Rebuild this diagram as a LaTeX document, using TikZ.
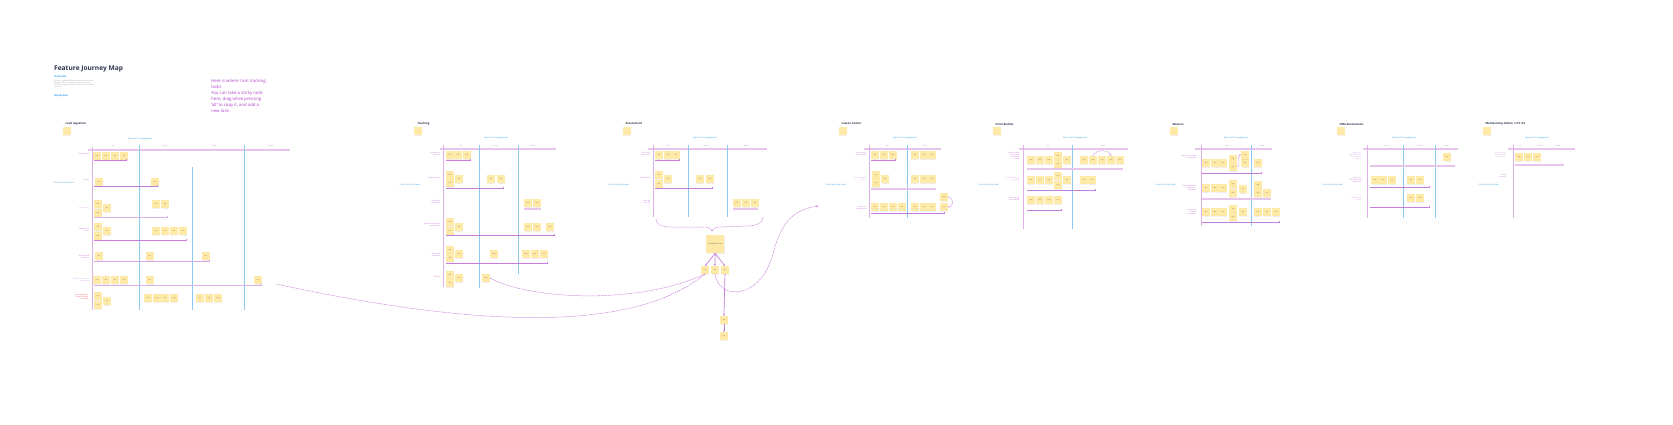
\documentclass[tikz,border=0pt]{standalone}
\usepackage{fontspec}
\setmainfont{Open Sans}
\usetikzlibrary{arrows.meta,shadows}

\definecolor{noteyel}{HTML}{FFE9A6}
\definecolor{linepurp}{HTML}{C77DDB}
\definecolor{bandpurp}{HTML}{E6C4EC}
\definecolor{axispurp}{HTML}{DDB0E6}
\definecolor{colblue}{HTML}{8CC8F2}
\definecolor{txtpurp}{HTML}{B040C8}
\definecolor{txtblue}{HTML}{2C9AE8}
\definecolor{titlenavy}{HTML}{2E3350}

\tikzset{
  note/.style={fill=noteyel, minimum width=7.5pt, minimum height=7.5pt, inner sep=0.4pt,
    anchor=north west, font=\fontsize{1.4}{1.7}\selectfont, text=black!65,
    drop shadow={opacity=0.12, shadow xshift=0.3pt, shadow yshift=-0.9pt}},
  bignote/.style={note, minimum width=18pt, minimum height=18pt, font=\fontsize{1.8}{2.2}\selectfont},
  rowline/.style={draw=linepurp, line width=0.7pt, -{Square[length=1.3pt,width=1.5pt]}},
  rowband/.style={draw=bandpurp, line width=1.5pt},
  topband/.style={draw=bandpurp, line width=1.3pt},
  axis/.style={draw=axispurp, line width=0.9pt},
  coldiv/.style={draw=colblue, line width=0.9pt},
  flow/.style={draw=linepurp, line width=0.5pt, dash pattern=on 1.5pt off 0.8pt},
  link/.style={draw=linepurp, line width=0.7pt, -{Stealth[length=2pt,width=1.8pt]}},
  ptitle/.style={font=\fontsize{2.8}{3.2}\selectfont\bfseries, text=titlenavy, anchor=west},
  bluelbl/.style={font=\fontsize{2}{2.4}\selectfont, text=txtblue},
  rowlbl/.style={font=\fontsize{1.8}{2.2}\selectfont, text=txtpurp!75, anchor=east, align=right, inner sep=0.5pt},
  colhd/.style={font=\fontsize{1.6}{2}\selectfont, text=txtpurp!75},
}

\begin{document}
\begin{tikzpicture}[x=1pt, y=-1pt]
  %%%%% START %%%%%
  \useasboundingbox[fill=white] (0,0) rectangle (1673,425);

  % header
  \node[anchor=west, font=\fontsize{6.6}{8}\selectfont\bfseries, text=titlenavy, inner sep=0] (title) at (54,69) {Feature Journey Map};
  \node[anchor=west, font=\fontsize{2.6}{3}\selectfont\bfseries, text=txtblue, inner sep=0] (overview) at (54,77) {Overview};
  \node[anchor=north west, font=\fontsize{1.6}{2.1}\selectfont, text=black!45, inner sep=0, align=left] (intro) at (54,80)
    {Use this board to follow each feature from first idea\\through release, one swimlane per team and one\\column per stage of the journey. Move notes as work\\moves on.};
  \node[anchor=west, font=\fontsize{2.6}{3}\selectfont\bfseries, text=txtblue, inner sep=0] (group) at (54,96) {Group Size};
  \node[anchor=north west, font=\fontsize{4.3}{5.8}\selectfont, text=txtpurp, inner sep=0, align=left] (howto) at (211,79)
    {Here is where I am tracking\\tasks\\[0.8pt]You can take a sticky note\\here, drag while pressing\\`alt' to copy it, and add a\\new task.};

  % ---- panel 1 ----
  \node[ptitle] (t1) at (62,124) {Lead Ingestion};
  \node[note] (k1) at (63,127) {};
  \node[bluelbl] (b1) at (140,139) {Sales and CS engagement};
  \draw[topband] (88,150) -- (290,150);
  \foreach \x/\h in {113/Idea,165/Design,214/Build,271/Launch} \node[colhd] (h1-\x) at (\x,146) {\h};
  \draw[axis] (92,147) -- (92,310);
  \draw[coldiv] (139,145) -- (139,310);
  \draw[coldiv] (192,167) -- (192,310);
  \draw[coldiv] (244,145) -- (244,310);
  \node[bluelbl, anchor=west] (s1) at (50,183) {Cross-functional team};
  \node[rowlbl] (r1a) at (90,154) {Web capture};
  \foreach \x in {93,102,111,120} \node[note] (n1a-\x) at (\x,152) {task};
  \draw[rowline] (94,160) -- (127,160);
  \node[rowlbl] (r1b) at (90,180) {Import};
  \node[note] (n1b-1) at (95,178) {task};
  \node[note] (n1b-2) at (151,178) {task};
  \draw[rowline] (94,186) -- (158,186);
  \node[rowlbl, text=txtpurp!45] (r1c) at (90,208) {Lead scoring};
  \foreach \x/\y in {94/200,103/204,94/209,152/200,161/200} \node[note] (n1c-\x-\y) at (\x,\y) {task};
  \draw[rowline, draw=linepurp!60] (94,217) -- (168,217);
  \node[rowlbl] (r1d) at (90,230) {Assignment\\rules};
  \foreach \x/\y in {94/223,94/232,103/227,152/227,161/227,170/227,179/227} \node[note] (n1d-\x-\y) at (\x,\y) {task};
  \draw[rowline] (94,240) -- (187,240);
  \node[rowlbl] (r1e) at (90,257) {Nurture and\\follow up};
  \foreach \x in {95,146,202} \node[note] (n1e-\x) at (\x,252) {task};
  \draw[rowline, draw=linepurp!70] (94,261) -- (210,261);
  \node[rowlbl, text=txtpurp!50] (r1f) at (90,280) {Duplicate detection\\and merge};
  \foreach \x in {93,102,111,120,146,254} \node[note] (n1f-\x) at (\x,276) {task};
  \draw[rowline, draw=linepurp!60] (94,285) -- (262,285);
  \coordinate (p1end) at (276,284);
  \node[rowlbl, text=red!70] (r1g) at (89,297) {Open questions\\from the team\\on intake};
  \foreach \x/\y in {94/292,103/297,94/301,144/294,153/294,161/294,170/294,196/294,205/294,214/294} \node[note] (n1g-\x-\y) at (\x,\y) {task};

  % ---- panel 2 ----
  \node[ptitle] (t2) at (414,124) {Tracking};
  \node[note] (k2) at (414,127) {};
  \node[bluelbl] (b2) at (496,138) {Sales and CS engagement};
  \draw[topband] (440,149) -- (556,149);
  \foreach \x/\h in {461/Idea,496/Design,533/Build} \node[colhd] (h2-\x) at (\x,146) {\h};
  \draw[axis] (443,145) -- (443,287);
  \draw[coldiv] (479,145) -- (479,288);
  \draw[coldiv] (518,145) -- (518,274);
  \node[bluelbl, anchor=west] (s2) at (396,185) {Cross-functional team};
  \node[rowlbl] (r2a) at (441,154) {Attendance\\check-in};
  \foreach \x in {446,454,463} \node[note] (n2a-\x) at (\x,151) {task};
  \draw[rowline] (446,160) -- (471,160);
  \node[rowlbl] (r2b) at (441,178) {Progress notes};
  \foreach \x/\y in {446/171,446/179,455/175,487/175,497/175} \node[note] (n2b-\x-\y) at (\x,\y) {task};
  \draw[rowline] (446,188) -- (504,188);
  \node[rowlbl] (r2c) at (441,202) {Goals and\\milestones};
  \foreach \x in {524,533} \node[note] (n2c-\x) at (\x,199) {task};
  \draw[rowband] (524,209) -- (541,209);
  \node[rowlbl] (r2d) at (441,225) {Reports for parents\\and coaches};
  \foreach \x/\y in {446/218,446/227,455/223,524/223,533/223,546/223} \node[note] (n2d-\x-\y) at (\x,\y) {task};
  \draw[rowline] (446,235) -- (555,235);
  \node[rowlbl] (r2e) at (441,255) {Alerts and\\reminders};
  \foreach \x/\y in {446/246,446/254,455/250,490/250,522/250,531/250,540/250} \node[note] (n2e-\x-\y) at (\x,\y) {task};
  \draw[rowline] (446,263) -- (548,263);
  \node[rowlbl, text=red!60] (r2f) at (441,277) {Exports};
  \foreach \x/\y in {446/271,446/279,455/274} \node[note] (n2f-\x-\y) at (\x,\y) {task};
  \node[note] (n2f-last) at (482,274) {task};

  % ---- panel 3 ----
  \node[ptitle] (t3) at (622,124) {Assessment};
  \node[note] (k3) at (623,127) {};
  \node[bluelbl] (b3) at (705,138) {Sales and CS engagement};
  \draw[topband] (648,149) -- (767,149);
  \foreach \x/\h in {668/Idea,706/Design,746/Build} \node[colhd] (h3-\x) at (\x,146) {\h};
  \draw[axis] (653,145) -- (653,217);
  \draw[coldiv] (688,145) -- (688,217);
  \draw[coldiv] (727,145) -- (727,217);
  \node[bluelbl, anchor=west] (s3) at (605,185) {Cross-functional team};
  \node[rowlbl] (r3a) at (651,154) {Skill levels\\and rubrics};
  \foreach \x in {655,664,672} \node[note] (n3a-\x) at (\x,151) {task};
  \draw[rowline] (655,160) -- (680,160);
  \node[rowlbl] (r3b) at (651,178) {Evaluations};
  \foreach \x/\y in {655/171,655/180,664/175,696/175,706/175} \node[note] (n3b-\x-\y) at (\x,\y) {task};
  \draw[rowline] (655,188) -- (713,188);
  \node[rowlbl] (r3c) at (651,202) {Level-up\\results};
  \foreach \x in {733,742,751} \node[note] (n3c-\x) at (\x,199) {task};
  \draw[rowband] (733,209) -- (758,209);

  % merge into hub
  \draw[flow] (656,219) to[out=-85,in=180] (678,227) -- (704,227) to[out=0,in=90] (712,232);
  \draw[flow] (763,217) to[out=-95,in=0] (746,226) -- (720,227) to[out=180,in=90] (712,232);
  \node[bignote] (hub) at (706,235) {Shared\\skills hub};
  \node[note] (c1) at (701,266) {task};
  \node[note] (c2) at (711,266) {task};
  \node[note] (c3) at (721,266) {task};
  \node[note] (c4) at (720,316) {task};
  \node[note] (c5) at (720,332) {task};
  \draw[link] (hub.south) -- (c1.north);
  \draw[link] (hub.south) -- (c2.north);
  \draw[link] (hub.south) -- (c3.north);
  \draw[link] (c3.south) -- (c4.north);
  \draw[link] (c4.south) -- (c5.north);

  % links back and forward
  \draw[flow] (c1.south) .. controls (620,345) and (420,315) .. (p1end);
  \draw[flow] (c1.south) .. controls (640,305) and (530,300) .. (n2f-last.east);
  \coordinate (p4in) at (818,206);
  \draw[flow, -{Stealth[length=2.2pt,width=2pt]}] (c2.south) .. controls (718,300) and (762,302) .. (774,250) .. controls (784,215) and (800,209) .. (p4in);

  % ---- panel 4 ----
  \node[ptitle] (t4) at (838,124) {Lesson Center};
  \node[note] (k4) at (839,127) {};
  \node[bluelbl] (b4) at (905,138) {Sales and CS engagement};
  \draw[topband] (864,149) -- (941,149);
  \foreach \x/\h in {887/Idea,925/Build} \node[colhd] (h4-\x) at (\x,146) {\h};
  \draw[axis] (869,145) -- (869,218);
  \draw[coldiv] (907,145) -- (907,218);
  \node[bluelbl, anchor=west] (s4) at (822,185) {Cross-functional team};
  \node[rowlbl] (r4a) at (867,154) {Lesson plans\\and content};
  \foreach \x in {871,880,889,911,920,928} \node[note] (n4a-\x) at (\x,151) {task};
  \draw[rowline] (871,160) -- (896,160);
  \node[rowlbl, text=txtpurp!45] (r4b) at (867,179) {Class schedule\\builder};
  \foreach \x/\y in {872/171,872/179,881/175,911/175,920/175,928/175} \node[note] (n4b-\x-\y) at (\x,\y) {task};
  \draw[rowband] (871,189) -- (936,189);
  \node[rowlbl] (r4c) at (867,208) {Instructor\\assignment};
  \foreach \x in {871,880,889,898,911,920,928} \node[note] (n4c-\x) at (\x,203) {task};
  \node[note] (n4c-up) at (940,193) {task};
  \node[note] (n4c-dn) at (940,203) {task};
  \draw[flow, -{Stealth[length=1.5pt,width=1.4pt]}] (n4c-up.east) to[out=0,in=0,looseness=1.6] (n4c-dn.east);
  \draw[rowline] (871,213) -- (945,213);

  % ---- panel 5 ----
  \node[ptitle] (t5) at (992,124) {Form Builder};
  \node[note] (k5) at (993,127) {};
  \node[bluelbl] (b5) at (1075,138) {Sales and CS engagement};
  \draw[topband] (1019,149) -- (1128,149);
  \foreach \x/\h in {1048/Idea,1103/Build} \node[colhd] (h5-\x) at (\x,146) {\h};
  \draw[axis] (1023,145) -- (1023,229);
  \draw[coldiv] (1072,145) -- (1072,229);
  \node[bluelbl, anchor=west] (s5) at (975,185) {Cross-functional team};
  \node[rowlbl] (r5a) at (1020,156) {Custom fields\\for sign-up\\and intake\\forms};
  \foreach \x/\y in {1027/156,1036/156,1045/156,1054/152,1054/160,1063/156,1080/156,1098/156,1116/156} \node[note] (n5a-\x-\y) at (\x,\y) {task};
  \node[note] (n5a-from) at (1089,156) {task};
  \node[note] (n5a-to) at (1107,156) {task};
  \draw[flow, -{Stealth[length=1.5pt,width=1.4pt]}] (n5a-from.north) to[out=75,in=105] (n5a-to.north);
  \draw[rowband] (1027,169) -- (1123,169);
  \node[rowlbl, text=txtpurp!45] (r5b) at (1020,179) {Conditional logic\\and rules};
  \foreach \x/\y in {1027/176,1036/176,1045/176,1054/172,1054/181,1063/176,1080/176,1088/176} \node[note] (n5b-\x-\y) at (\x,\y) {task};
  \draw[rowline] (1027,190) -- (1096,190);
  \node[rowlbl] (r5c) at (1020,199) {Form sharing\\and embeds};
  \foreach \x in {1027,1036,1045,1054} \node[note] (n5c-\x) at (\x,196) {task};
  \draw[rowline] (1027,210) -- (1062,210);

  % ---- panel 6 ----
  \node[ptitle] (t6) at (1169,124) {Waivers};
  \node[note] (k6) at (1170,127) {};
  \node[bluelbl] (b6) at (1236,138) {Sales and CS engagement};
  \draw[topband] (1195,149) -- (1272,149);
  \foreach \x/\h in {1227/Idea,1262/Build} \node[colhd] (h6-\x) at (\x,146) {\h};
  \draw[axis] (1201,145) -- (1201,226);
  \draw[coldiv] (1251,145) -- (1251,226);
  \node[bluelbl, anchor=west] (s6) at (1152,185) {Cross-functional team};
  \node[rowlbl] (r6a) at (1197,157) {Waiver templates\\and versions};
  \foreach \x/\y in {1202/159,1211/159,1219/159,1229/155,1241/159,1254/159} \node[note] (n6a-\x-\y) at (\x,\y) {task};
  \node[note] (n6a-from) at (1229,163) {task};
  \node[note] (n6a-to) at (1241,151) {task};
  \draw[flow, -{Stealth[length=1.5pt,width=1.4pt]}] (n6a-from.east) to[out=0,in=180] (n6a-to.west);
  \draw[rowline] (1202,173) -- (1262,173);
  \node[rowlbl] (r6b) at (1197,188) {Digital signature\\capture for\\members};
  \foreach \x/\y in {1202/184,1211/184,1219/184,1229/180,1229/189,1239/185,1254/181,1254/189,1263/189} \node[note] (n6b-\x-\y) at (\x,\y) {task};
  \draw[rowband] (1202,199) -- (1271,199);
  \node[rowlbl] (r6c) at (1197,212) {Expiry and\\renewal\\reminders};
  \foreach \x/\y in {1202/208,1211/208,1219/208,1229/205,1229/213,1239/208,1254/208,1263/208,1272/208} \node[note] (n6c-\x-\y) at (\x,\y) {task};
  \draw[rowline] (1202,222) -- (1280,222);

  % ---- panel 7 ----
  \node[ptitle] (t7) at (1336,124) {CRM Automation};
  \node[note] (k7) at (1337,127) {};
  \node[bluelbl] (b7) at (1404,138) {Sales and CS engagement};
  \draw[topband] (1363,149) -- (1458,149);
  \foreach \x/\h in {1386/Idea,1420/Design,1447/Build} \node[colhd] (h7-\x) at (\x,146) {\h};
  \draw[axis] (1367,145) -- (1367,218);
  \draw[coldiv] (1403,145) -- (1403,218);
  \draw[coldiv] (1435,145) -- (1435,218);
  \node[bluelbl, anchor=west] (s7) at (1319,185) {Cross-functional team};
  \node[rowlbl, text=txtpurp!45] (r7a) at (1362,156) {Triggers on\\member status\\and payment\\events};
  \node[note] (n7a) at (1443,153) {task};
  \draw[rowband] (1370,166) -- (1455,166);
  \node[rowlbl] (r7b) at (1362,180) {Email and\\SMS follow-up\\sequences};
  \foreach \x in {1371,1379,1388,1407,1416} \node[note] (n7b-\x) at (\x,176) {task};
  \draw[rowline] (1370,187) -- (1430,187);
  \node[rowlbl, text=txtpurp!45] (r7c) at (1362,199) {Task queues\\for staff};
  \foreach \x in {1407,1416} \node[note] (n7c-\x) at (\x,194) {task};
  \draw[rowline] (1370,207) -- (1430,207);

  % ---- panel 8 ----
  \node[ptitle] (t8) at (1482,124) {Membership Admin / LCT 2.0};
  \node[note] (k8) at (1483,127) {};
  \node[bluelbl] (b8) at (1537,138) {Sales and CS engagement};
  \draw[topband] (1508,149) -- (1575,149);
  \foreach \x/\h in {1520/Idea,1540/Design,1558/Build} \node[colhd] (h8-\x) at (\x,146) {\h};
  \draw[axis] (1513,145) -- (1513,218);
  \node[bluelbl, anchor=west] (s8) at (1475,185) {Cross-functional team};
  \node[rowlbl, text=txtpurp!45] (r8a) at (1507,155) {Plans, freezes\\and transfers\\for members};
  \foreach \x in {1515,1524,1533} \node[note] (n8a-\x) at (\x,153) {task};
  \draw[rowband] (1515,165) -- (1564,165);
  \node[rowlbl] (r8b) at (1507,176) {Family\\accounts};

  %%%%% END %%%%%
\end{tikzpicture}
\end{document}
